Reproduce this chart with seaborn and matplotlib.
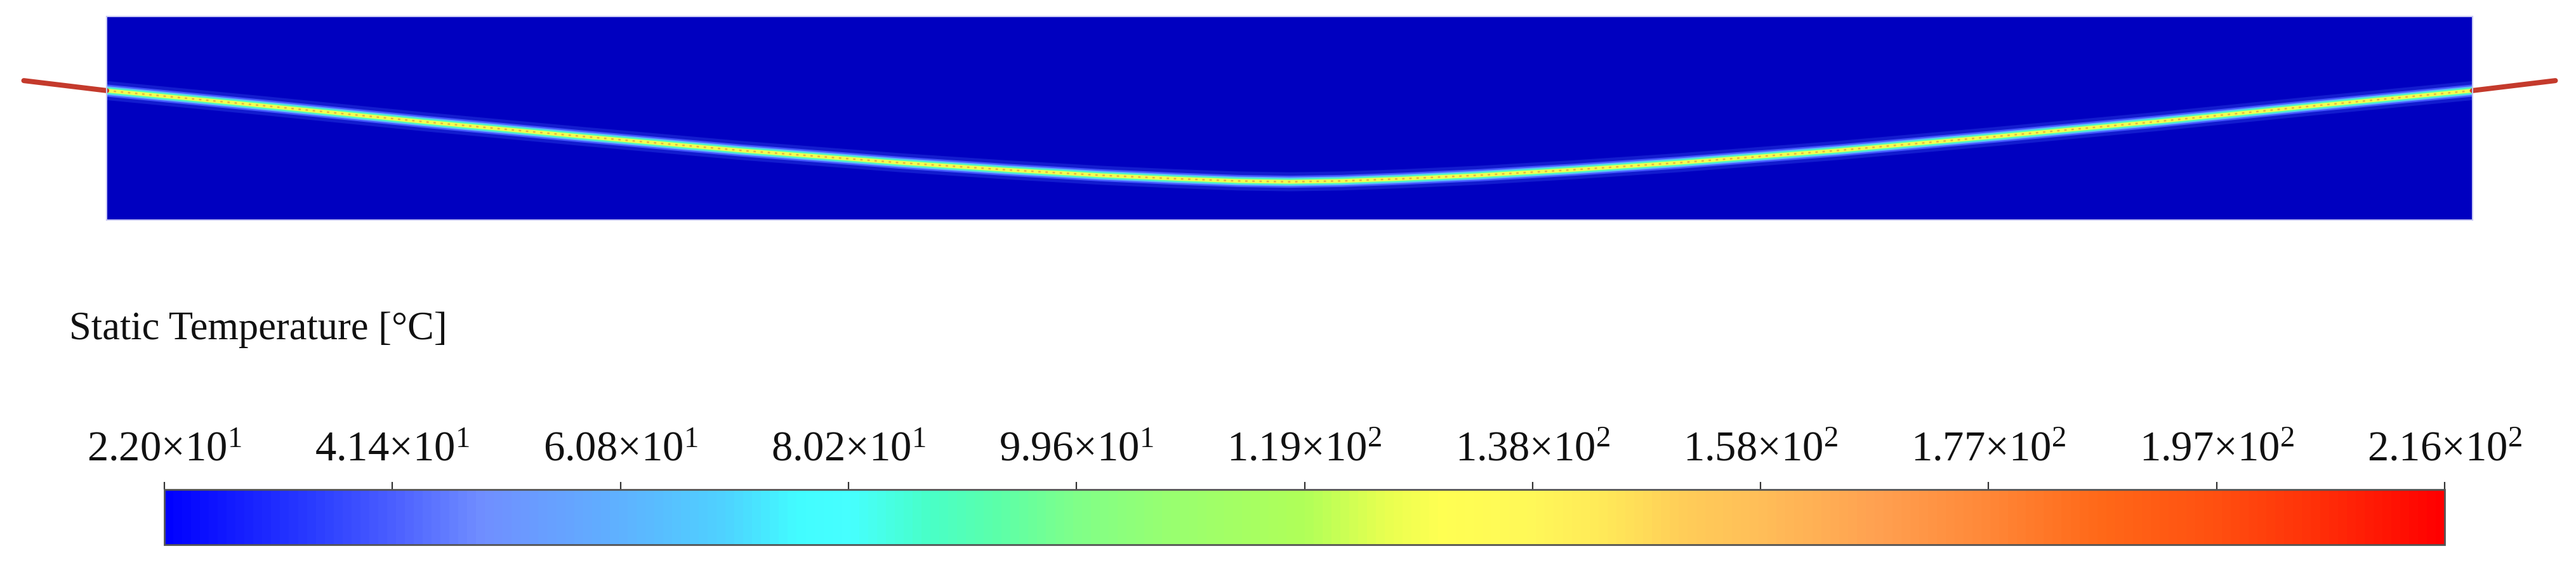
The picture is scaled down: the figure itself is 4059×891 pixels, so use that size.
import numpy as np
import matplotlib
matplotlib.use("Agg")
import matplotlib.pyplot as plt
import seaborn as sns
from matplotlib.colors import LinearSegmentedColormap, Normalize
from matplotlib.cm import ScalarMappable

# wire centreline inside the fluid domain (domain-normalised coords)
wire_x = [0.000, 0.067, 0.134, 0.201, 0.268, 0.335, 0.380, 0.420, 0.452, 0.478, 0.500,
          0.522, 0.548, 0.580, 0.620, 0.665, 0.732, 0.799, 0.866, 0.933, 1.000]
wire_y = [0.636, 0.561, 0.483, 0.411, 0.342, 0.282, 0.247, 0.220, 0.203, 0.192, 0.188,
          0.192, 0.203, 0.220, 0.247, 0.282, 0.342, 0.411, 0.483, 0.561, 0.636]

# lead wires sticking out of the domain on both sides
lead_left_x = [-0.035, 0.000]
lead_left_y = [0.685, 0.636]
lead_right_x = [1.000, 1.035]
lead_right_y = [0.636, 0.685]

# temperatures across the heated band (outer halo -> core), degC
band_temps = [40.0, 62.0, 90.0, 128.0]

# legend scale
t_min, t_max = 22.0, 216.0
tick_values = [22.0, 41.4, 60.8, 80.2, 99.6, 119.0, 138.4, 157.8, 177.2, 196.6, 216.0]
tick_mant = ["2.20", "4.14", "6.08", "8.02", "9.96", "1.19", "1.38", "1.58", "1.77", "1.97", "2.16"]
tick_exp = [1, 1, 1, 1, 1, 2, 2, 2, 2, 2, 2]
legend_title = "Static Temperature [°C]"

# rainbow legend as it looks in the picture
cmap_stops = [
    (0.000, "#0000ff"), (0.064, "#2a3cff"), (0.100, "#4c60ff"), (0.138, "#708eff"),
    (0.200, "#5eb2ff"), (0.245, "#4ed2ff"), (0.277, "#42fcff"), (0.300, "#46ffff"),
    (0.334, "#48ffc8"), (0.366, "#5cffa8"), (0.400, "#80ff88"), (0.440, "#98ff70"),
    (0.500, "#b0ff58"), (0.536, "#e8ff50"), (0.560, "#ffff52"), (0.600, "#fff858"),
    (0.633, "#ffe858"), (0.668, "#ffcc58"), (0.700, "#ffbe58"), (0.753, "#ffa050"),
    (0.800, "#ff8838"), (0.850, "#ff6818"), (0.900, "#ff5010"), (0.945, "#ff3008"),
    (1.000, "#ff0000"),
]
cmap = LinearSegmentedColormap.from_list("fluent_rainbow", cmap_stops)
norm = Normalize(vmin=t_min, vmax=t_max)

sns.set_theme(style="white")
plt.rcParams["font.family"] = ["Liberation Serif", "DejaVu Serif"]
plt.rcParams["mathtext.fontset"] = "custom"
plt.rcParams["mathtext.rm"] = "Liberation Serif"
plt.rcParams["mathtext.it"] = "Liberation Serif:italic"

W, H = 4059, 891
PT = 72 / 100  # px -> pt at dpi 100
fig = plt.figure(figsize=(W / 100, H / 100), dpi=100)
fig.patch.set_facecolor("white")

# ---- fluid domain ----
ax = fig.add_axes([168 / W, 1 - 347 / H, 3728 / W, 321 / H])
ax.set_facecolor("#0000c0")
ax.set_xlim(0, 1)
ax.set_ylim(0, 1)
ax.set_xticks([])
ax.set_yticks([])
for s in ax.spines.values():
    s.set_color("#c8c8f4")
    s.set_linewidth(1.5)

# blue halo around the hot band
sns.lineplot(x=wire_x, y=wire_y, ax=ax, color="#2a3ce0", linewidth=30 * PT,
             alpha=0.45, sort=False, estimator=None, solid_capstyle="butt")
widths = [19, 14, 10, 6]
for temp, w in zip(band_temps, widths):
    sns.lineplot(x=wire_x, y=wire_y, ax=ax, color=cmap(norm(temp)), linewidth=w * PT,
                 sort=False, estimator=None, solid_capstyle="butt")
# speckled hot cells along the wire
ax.plot(wire_x, wire_y, color="#e06a30", linewidth=2.5 * PT, alpha=0.5,
        dashes=(1.5, 3))

for lx, ly in [(lead_left_x, lead_left_y), (lead_right_x, lead_right_y)]:
    sns.lineplot(x=lx, y=ly, ax=ax, color="#c43a2c", linewidth=8 * PT, sort=False,
                 estimator=None, clip_on=False, solid_capstyle="round")

# ---- legend ----
fig.text(109 / W, 1 - 535 / H, legend_title, fontsize=45, va="baseline",
         ha="left", color="#111111")

cax = fig.add_axes([259 / W, 1 - 859 / H, 3593 / W, 87 / H])
sm = ScalarMappable(norm=norm, cmap=cmap)
cb = fig.colorbar(sm, cax=cax, orientation="horizontal")
cb.outline.set_edgecolor("#555555")
cb.outline.set_linewidth(2)
cax.xaxis.set_ticks_position("top")
cax.xaxis.set_label_position("top")
cb.set_ticks(tick_values)
cb.set_ticklabels([f"{m}×10$^{{{e}}}$" for m, e in zip(tick_mant, tick_exp)])
cax.tick_params(axis="x", which="major", length=9, width=1.6, color="#333333",
                labelsize=48, pad=14, labelcolor="#111111")
cax.tick_params(axis="x", which="minor", length=0)

fig.savefig("out.png", dpi=100)
